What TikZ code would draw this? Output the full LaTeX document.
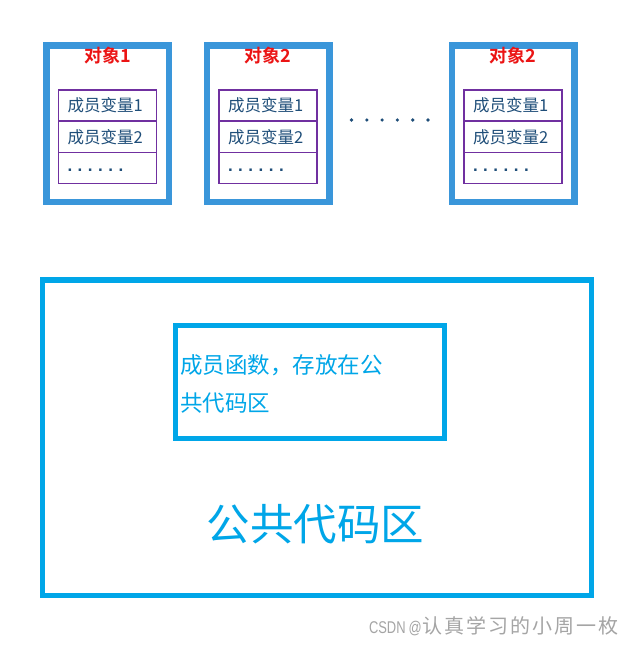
\documentclass[tikz,border=0pt]{standalone}
\usepackage{fontspec}
\setmainfont{Liberation Sans}
\newfontfamily\cjk{Noto Sans CJK SC}
\newfontfamily\cjkbold{Noto Sans CJK SC Bold}
\definecolor{objblue}{RGB}{58,150,218}
\definecolor{objred}{RGB}{235,20,20}
\definecolor{memline}{RGB}{112,48,160}
\definecolor{memtext}{RGB}{31,78,121}
\definecolor{codeblue}{RGB}{0,166,232}
\definecolor{wmgray}{RGB}{165,165,165}
\newcommand{\sixdots}{.\hspace{5.5pt}.\hspace{5.5pt}.\hspace{5.5pt}.\hspace{5.5pt}.\hspace{5.5pt}.}
\begin{document}
\begin{tikzpicture}[x=1pt,y=-1pt,
  objbox/.style={draw=objblue,line width=6.5pt,minimum width=122.5pt,minimum height=156.5pt,inner sep=0pt},
  objtitle/.style={text=objred,font=\cjkbold\fontsize{18}{18}\selectfont,inner sep=0pt},
  cell/.style={draw=memline,line width=1.4pt,minimum width=98pt,minimum height=31.3pt,inner xsep=9pt,inner ysep=0pt,text width=80pt,align=left,text=memtext,font=\cjk\fontsize{16.5}{16.5}\selectfont},
  codebox/.style={draw=codeblue,inner sep=0pt},
  codetext/.style={text=codeblue,inner sep=0pt},
  bigdot/.style={fill=memtext}]
\useasboundingbox (0,0) rectangle (634,645);
\fill[white] (0,0) rectangle (634,645);

\foreach \i/\cx/\t in {1/107.5/1, 2/268/2, 3/513/2}{
  \node[objbox] (o\i) at (\cx,123.5) {};
  \node[objtitle] (t\i) at (\cx,56) {对象\t};
  \node[cell] (ca\i) at (\cx,105.5) {成员变量1};
  \node[cell] (cb\i) at (\cx,136.8) {成员变量2};
  \node[cell,font=\bfseries\fontsize{17}{17}\selectfont] (cc\i) at (\cx,168.1) {\strut\sixdots};
}

\foreach \k in {0,...,5}{
  \fill[bigdot] (351.5+\k*15.3,120) circle (1.8pt);
}

\node[codebox,line width=5.5pt,minimum width=549pt,minimum height=315.5pt] (pub) at (317,437.75) {};
\node[codebox,line width=5pt,minimum width=269.5pt,minimum height=113pt] (fn) at (309.75,382) {};
\node[codetext,anchor=west,align=left,font=\cjk\fontsize{22.5}{38}\selectfont] (fntext) at (180,384) {成员函数，存放在公\\共代码区};
\node[codetext,font=\cjk\fontsize{43.5}{44}\selectfont] (pubtext) at (315.5,524) {公共代码区};

\node[text=wmgray,inner sep=0pt,anchor=east] (wm) at (619,626) {\fontsize{17}{17}\selectfont\scalebox{0.76}[1]{CSDN\hspace{4pt}@}\hspace{1pt}\cjk\fontsize{20}{20}\selectfont\addfontfeature{LetterSpace=10}认真学习的小周一枚};
\end{tikzpicture}
\end{document}
